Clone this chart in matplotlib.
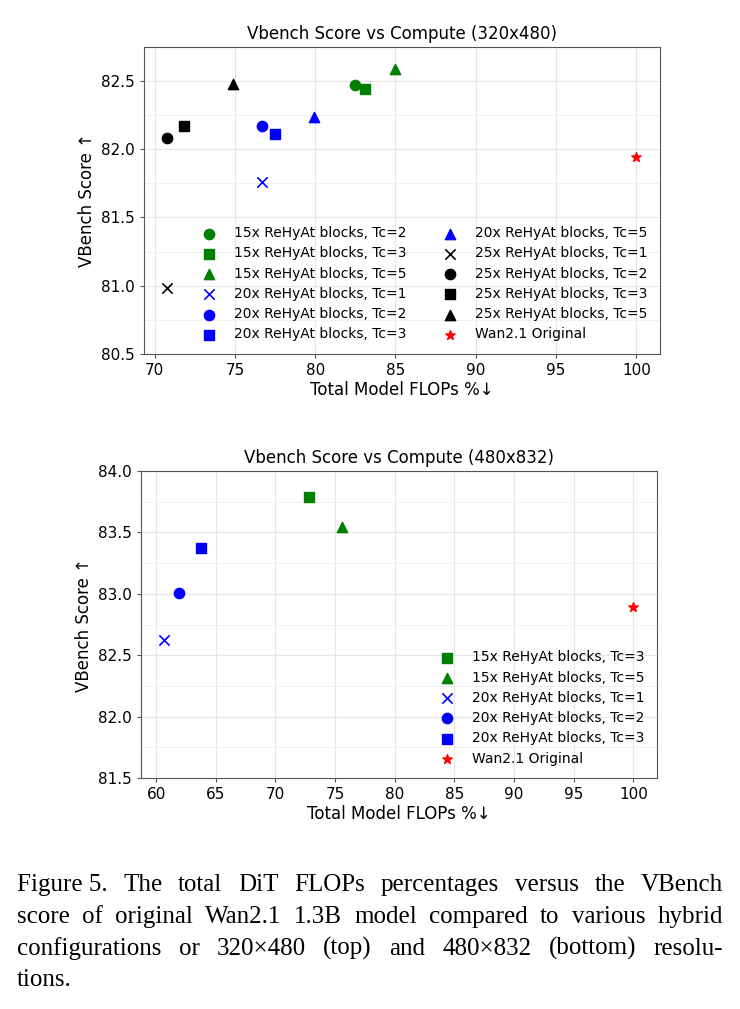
import matplotlib
matplotlib.use("Agg")
import matplotlib.pyplot as plt
from matplotlib.ticker import MultipleLocator

# ---- data: 320x480 ----
top_labels = ["15x ReHyAt blocks, Tc=2", "15x ReHyAt blocks, Tc=3", "15x ReHyAt blocks, Tc=5",
              "20x ReHyAt blocks, Tc=1", "20x ReHyAt blocks, Tc=2", "20x ReHyAt blocks, Tc=3",
              "20x ReHyAt blocks, Tc=5", "25x ReHyAt blocks, Tc=1", "25x ReHyAt blocks, Tc=2",
              "25x ReHyAt blocks, Tc=3", "25x ReHyAt blocks, Tc=5", "Wan2.1 Original"]
top_flops = [82.5, 83.1, 85.0, 76.7, 76.7, 77.5, 79.9, 70.8, 70.8, 71.8, 74.9, 100.0]
top_score = [82.47, 82.44, 82.59, 81.76, 82.17, 82.11, 82.24, 80.98, 82.08, 82.17, 82.48, 81.94]
top_colors = ["green", "green", "green", "blue", "blue", "blue", "blue",
              "black", "black", "black", "black", "red"]
top_markers = ["o", "s", "^", "x", "o", "s", "^", "x", "o", "s", "^", "*"]

# ---- data: 480x832 ----
bot_labels = ["15x ReHyAt blocks, Tc=3", "15x ReHyAt blocks, Tc=5", "20x ReHyAt blocks, Tc=1",
              "20x ReHyAt blocks, Tc=2", "20x ReHyAt blocks, Tc=3", "Wan2.1 Original"]
bot_flops = [72.85, 75.6, 60.7, 61.95, 63.8, 100.0]
bot_score = [83.79, 83.545, 82.62, 83.01, 83.37, 82.89]
bot_colors = ["green", "green", "blue", "blue", "blue", "red"]
bot_markers = ["s", "^", "x", "o", "s", "*"]

caption = [
    "Figure 5.  The total DiT FLOPs percentages versus the VBench",
    "score of original Wan2.1 1.3B model compared to various hybrid",
    "configurations or 320\u00d7480 (top) and 480\u00d7832 (bottom) resolu-",
    "tions.",
]

fig = plt.figure(figsize=(7.4, 10.09), dpi=100)
ax1 = fig.add_axes([0.1946, 0.6492, 0.697, 0.3043])
ax2 = fig.add_axes([0.1905, 0.2289, 0.697, 0.3043])


def draw(ax, xs, ys, cols, marks, labs):
    for x, y, c, m, l in zip(xs, ys, cols, marks, labs):
        if m == "x":
            ax.scatter(x, y, c=c, marker=m, s=55, linewidths=1.2, label=l, zorder=3)
        elif m == "*":
            ax.scatter(x, y, c=c, marker=m, s=50, label=l, zorder=3)
        else:
            ax.scatter(x, y, c=c, marker=m, s=55, label=l, zorder=3)
    ax.yaxis.set_minor_locator(MultipleLocator(0.25))
    ax.grid(True, which="major", color="#e6e6e6", linewidth=0.8)
    ax.grid(True, which="minor", axis="y", color="#f0f0f0", linewidth=0.8)
    ax.tick_params(which="minor", length=0)
    ax.tick_params(which="major", labelsize=11, length=3, color="#555555")
    ax.set_axisbelow(True)
    for sp in ax.spines.values():
        sp.set_color("#555555")
    ax.set_xlabel("Total Model FLOPs %\u2193", fontsize=12, labelpad=2)
    ax.set_ylabel("VBench Score \u2191", fontsize=12)


draw(ax1, top_flops, top_score, top_colors, top_markers, top_labels)
ax1.set_ylim(80.5, 82.75)
ax1.set_yticks([80.5, 81.0, 81.5, 82.0, 82.5])
ax1.set_xticks([70, 75, 80, 85, 90, 95, 100])
ax1.set_title("Vbench Score vs Compute (320x480)", fontsize=12)
ax1.legend(ncol=2, loc="lower right", frameon=False, fontsize=10,
           columnspacing=2.1, handletextpad=0.8, labelspacing=0.45)

draw(ax2, bot_flops, bot_score, bot_colors, bot_markers, bot_labels)
ax2.set_ylim(81.5, 84.0)
ax2.set_yticks([81.5, 82.0, 82.5, 83.0, 83.5, 84.0])
ax2.set_xticks([60, 65, 70, 75, 80, 85, 90, 95, 100])
ax2.set_title("Vbench Score vs Compute (480x832)", fontsize=12)
ax2.legend(loc="lower right", frameon=False, fontsize=10,
           handletextpad=0.8, labelspacing=0.45)

# ---- justified caption ----
fig.canvas.draw()
renderer = fig.canvas.get_renderer()
W, H = 740.0, 1009.0
x0, x1 = 17.0, 723.0
line_y = [883, 915, 947, 978]
cap_font = dict(family="Liberation Serif", fontsize=18, color="black", va="baseline")
for i, (line, yp) in enumerate(zip(caption, line_y)):
    yf = 1 - (yp + 8) / H
    if i == len(caption) - 1:
        fig.text(x0 / W, yf, line, ha="left", **cap_font)
        continue
    words = line.split()
    if line.startswith("Figure 5."):
        words = ["Figure 5."] + line[len("Figure 5."):].split()
    arts = [fig.text(0, yf, w, ha="left", **cap_font) for w in words]
    widths = [a.get_window_extent(renderer).width for a in arts]
    gap = (x1 - x0 - sum(widths)) / (len(words) - 1)
    x = x0
    for a, w in zip(arts, widths):
        a.set_x(x / W)
        x += w + gap

fig.savefig("out.png", dpi=100)
